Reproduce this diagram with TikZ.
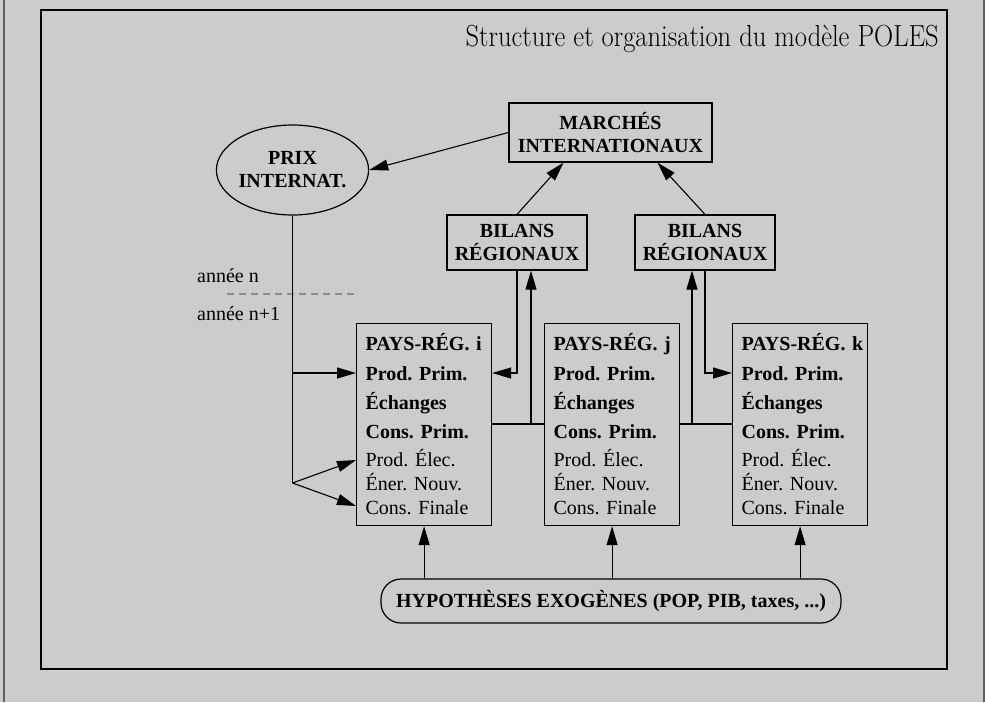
\documentclass[tikz,border=0pt]{standalone}
\usepackage{fontspec}
\setmainfont{Liberation Serif}
\newfontfamily\titrefont[FakeStretch=0.87]{Latin Modern Roman}
\usetikzlibrary{shapes.geometric,arrows.meta,calc}
\definecolor{fond}{RGB}{204,204,204}
\definecolor{bord}{RGB}{95,95,95}
\definecolor{tirets}{RGB}{140,140,140}
\frenchspacing

\begin{document}
\begin{tikzpicture}[x=1pt,y=-1pt,
    fleche/.style = {-{Triangle[length=19pt,width=11pt]}, line width=1.1pt},
    trait/.style = {line width=1.1pt},
    boite/.style = {draw, line width=1.2pt, inner sep=0pt, align=center,
      font=\bfseries\fontsize{20}{23}\selectfont},
    pays/.style = {draw, line width=1.2pt, anchor=north west, align=left,
      text width=117pt, inner xsep=9pt, inner ysep=0pt,
      text height=27pt, text depth=175pt,
      font=\frenchspacing\fontsize{20}{24}\selectfont},
    annee/.style = {anchor=west, inner sep=0pt, font=\fontsize{20}{24}\selectfont}]

  \useasboundingbox (0,0) rectangle (985,702);
  \fill[fond] (0,0) rectangle (985,702);
  \draw[bord, line width=2.5pt] (4,0) -- (4,702);
  \draw[bord, line width=2.5pt] (984,0) -- (984,702);
  \draw[line width=1.5pt] (41,10) rectangle (947,669);

  \node[anchor=base east, inner sep=0pt, font=\titrefont\fontsize{30.5}{32}\selectfont] (titre)
    at (939,46) {Structure et organisation du modèle POLES};

  \node[boite, minimum width=203pt, minimum height=59pt] (marches) at (610.5,132.5)
    {MARCHÉS\\INTERNATIONAUX};
  \node[boite, ellipse, minimum width=133pt, minimum height=90pt] (prix) at (292.5,170)
    {PRIX\\INTERNAT.};
  \node[boite, minimum width=140pt, minimum height=55pt] (bilL) at (517,242.5)
    {BILANS\\RÉGIONAUX};
  \node[boite, minimum width=140pt, minimum height=55pt] (bilR) at (705,242.5)
    {BILANS\\RÉGIONAUX};

  \node[pays] (pi) at (356,323) {\textbf{\mbox{PAYS-RÉG.~i}}\\[6pt]\textbf{Prod. Prim.}\\[5pt]%
    \textbf{Échanges}\\[5pt]\textbf{Cons. Prim.}\\[4pt]Prod. Élec.\\Éner. Nouv.\\Cons. Finale};
  \node[pays] (pj) at (544,323) {\textbf{\mbox{PAYS-RÉG.~j}}\\[6pt]\textbf{Prod. Prim.}\\[5pt]%
    \textbf{Échanges}\\[5pt]\textbf{Cons. Prim.}\\[4pt]Prod. Élec.\\Éner. Nouv.\\Cons. Finale};
  \node[pays] (pk) at (732,323) {\textbf{\mbox{PAYS-RÉG.~k}}\\[6pt]\textbf{Prod. Prim.}\\[5pt]%
    \textbf{Échanges}\\[5pt]\textbf{Cons. Prim.}\\[4pt]Prod. Élec.\\Éner. Nouv.\\Cons. Finale};

  \node[boite, draw, rounded corners=20pt, minimum width=460pt, minimum height=44pt] (hyp)
    at (611,601) {HYPOTHÈSES EXOGÈNES (POP, PIB, taxes, ...)};

  \node[annee] (an) at (197,276) {année n};
  \node[annee] (an1) at (197,314) {année n+1};
  \draw[tirets, line width=1.5pt, dash pattern=on 7pt off 5pt] (227,294) -- (357,294);

  \draw[fleche] (marches.west) -- (prix.east);
  \draw[fleche] (bilL.north) -- ($(marches.south)+(-47,0)$);
  \draw[fleche] (bilR.north) -- ($(marches.south)+(47,0)$);

  \coordinate (nL) at (531,424);
  \coordinate (nR) at (692,424);
  \coordinate (fourche) at (292.5,483);
  \draw[trait] (pi.east |- nL) -- (pj.west |- nL);
  \draw[trait] (pj.east |- nR) -- (pk.west |- nR);
  \draw[fleche] (nL) -- (nL |- bilL.south);
  \draw[fleche] (nR) -- (nR |- bilR.south);
  \draw[fleche] (bilL.south) |- ($(pi.north east)+(0,50)$);
  \draw[fleche] (bilR.south) |- ($(pk.north west)+(0,50)$);

  \draw[trait] (prix.south) -- (fourche);
  \draw[fleche] (prix.south |- 0,373) -- ($(pi.north west)+(0,50)$);
  \draw[fleche] (fourche) -- ($(pi.north west)+(0,137)$);
  \draw[fleche] (fourche) -- ($(pi.north west)+(0,183)$);

  \draw[fleche] (hyp.north -| pi.south) -- (pi.south);
  \draw[fleche] (hyp.north -| pj.south) -- (pj.south);
  \draw[fleche] (hyp.north -| pk.south) -- (pk.south);
\end{tikzpicture}
\end{document}
